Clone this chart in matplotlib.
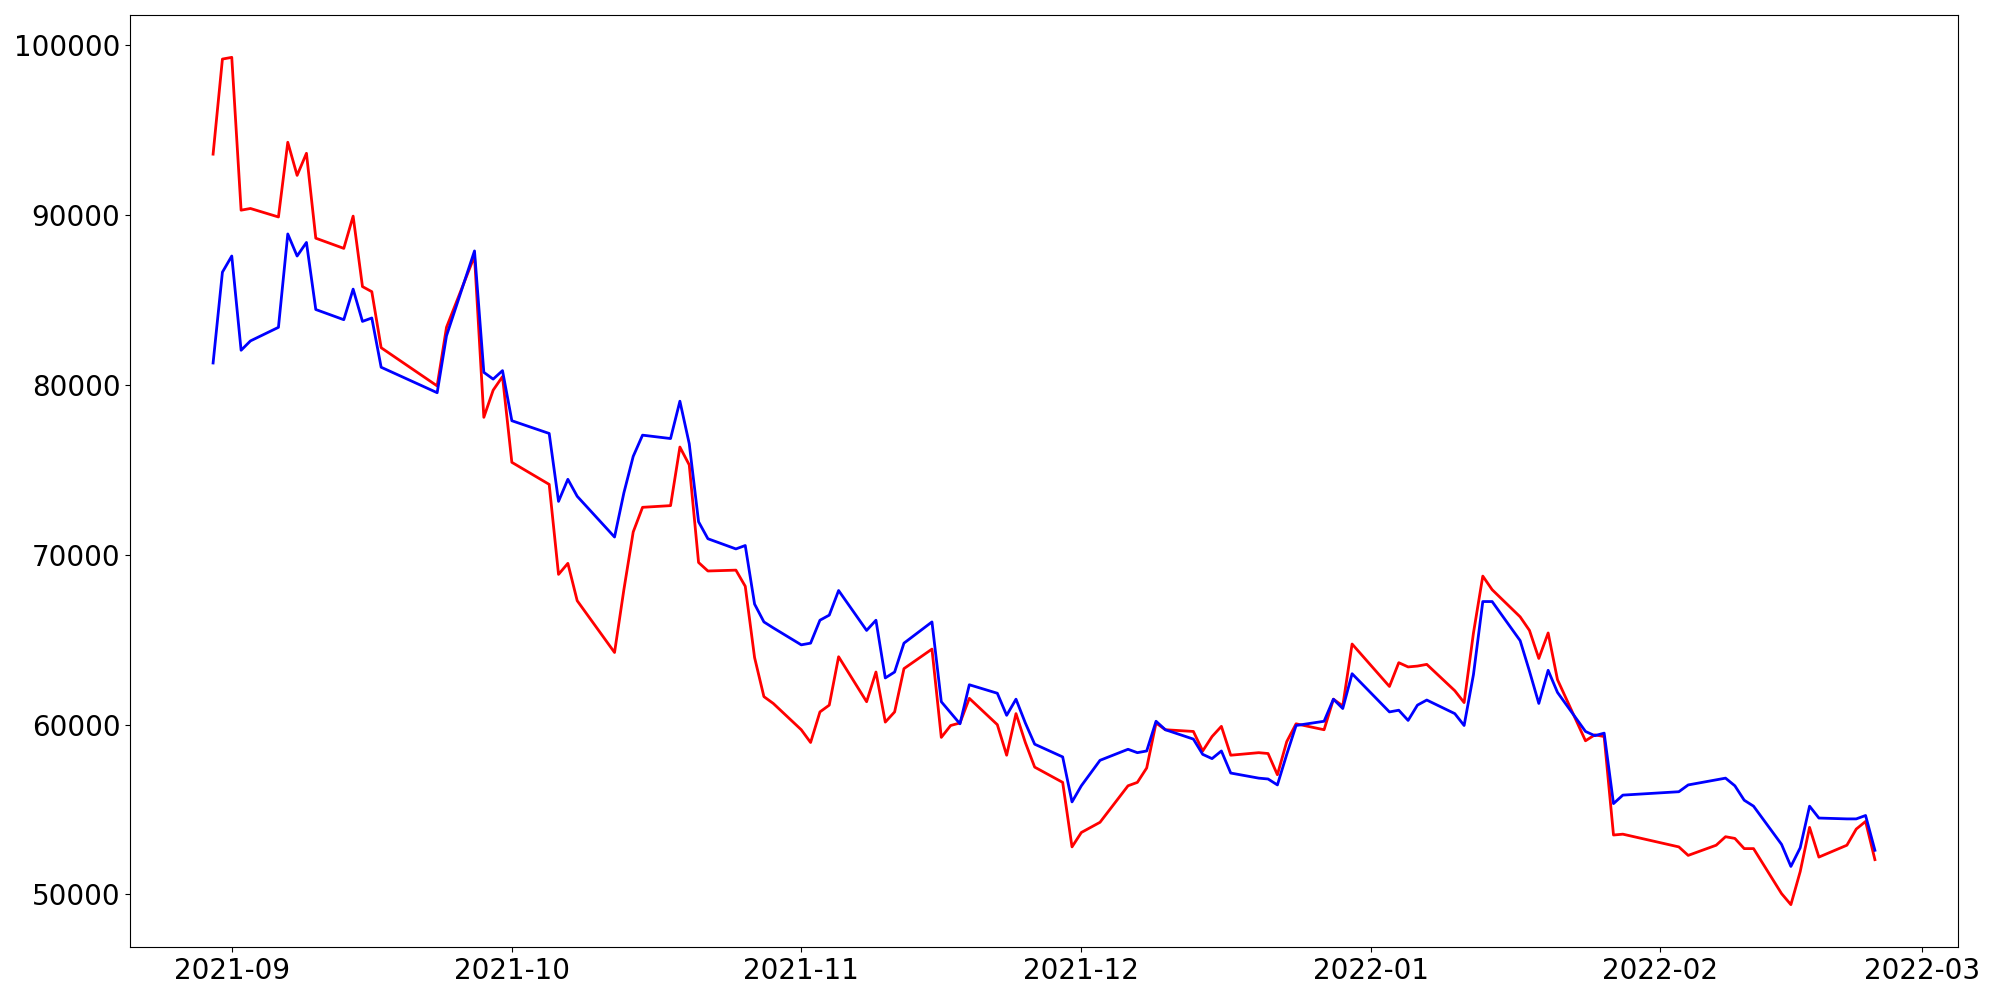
import matplotlib
matplotlib.use("Agg")
import matplotlib.pyplot as plt
import pandas as pd

# KRX trading days, 2021-08-30 .. 2022-02-24
holidays = ["2021-09-20", "2021-09-21", "2021-09-22", "2021-10-04", "2021-10-11",
            "2021-12-31", "2022-01-31", "2022-02-01", "2022-02-02"]
dates = pd.bdate_range("2021-08-30", "2022-02-24", freq="C", holidays=holidays)

red_values = [
    93600, 99200,
    99300, 90300, 90400, 89900, 94300, 92350, 93650, 88650, 88050, 89950,
    85800, 85500, 82200, 79950, 83400, 87600, 78100, 79700, 80500,
    75450, 74150, 68850, 69500, 67300, 64250, 67950, 71350, 72800, 72900,
    76350, 75300, 69550, 69050, 69100, 68150, 63950, 61650, 61250,
    59700, 58950, 60750, 61150, 64000, 61350, 63100, 60150, 60750, 63300,
    64450, 59250, 59950, 60100, 61550, 60000, 58200, 60650, 58950, 57500,
    56600, 52800,
    53650, 53950, 54250, 56400, 56600, 57450, 60100, 59700, 59600, 58450,
    59300, 59900, 58200, 58350, 58300, 57050, 59000, 60050, 59700, 61500,
    61100, 64750,
    62250, 63650, 63400, 63450, 63550, 62000, 61300, 65400, 68750, 67950,
    66350, 65550, 63900, 65400, 62650, 59050, 59400, 59300, 53500, 53550,
    52800, 52300, 52900, 53400, 53300, 52700, 52700, 50050, 49400, 51350,
    53950, 52200, 52900, 53850, 54300, 52050,
]

blue_values = [
    81300, 86650,
    87600, 82050, 82600, 83400, 88900, 87600, 88400, 84450, 83850, 85650,
    83750, 83950, 81050, 79550, 82900, 87900, 80750, 80350, 80850,
    77900, 77150, 73150, 74450, 73450, 71050, 73650, 75800, 77050, 76850,
    79050, 76550, 71950, 70950, 70350, 70550, 67100, 66050, 65700,
    64700, 64800, 66150, 66450, 67900, 65550, 66150, 62750, 63100, 64800,
    66050, 61350, 60700, 60050, 62350, 61850, 60550, 61500, 60100, 58850,
    58100, 55450,
    56400, 57150, 57900, 58550, 58350, 58450, 60200, 59700, 59150, 58250,
    58000, 58450, 57150, 56850, 56800, 56450, 58250, 59950, 60200, 61500,
    60950, 63000,
    60750, 60850, 60250, 61150, 61450, 60650, 59950, 62950, 67250, 67250,
    64950, 63150, 61250, 63200, 61900, 59600, 59350, 59500, 55350, 55850,
    56050, 56450, 56750, 56850, 56400, 55550, 55200, 52950, 51650, 52750,
    55200, 54500, 54450, 54450, 54650, 52600,
]

fig, ax = plt.subplots(figsize=(20, 10), dpi=100)
ax.plot(dates, red_values, color="red", linewidth=2)
ax.plot(dates, blue_values, color="blue", linewidth=2)
ax.tick_params(labelsize=20)
fig.subplots_adjust(left=0.065, right=0.979, bottom=0.053, top=0.985)
plt.savefig("out.png")
